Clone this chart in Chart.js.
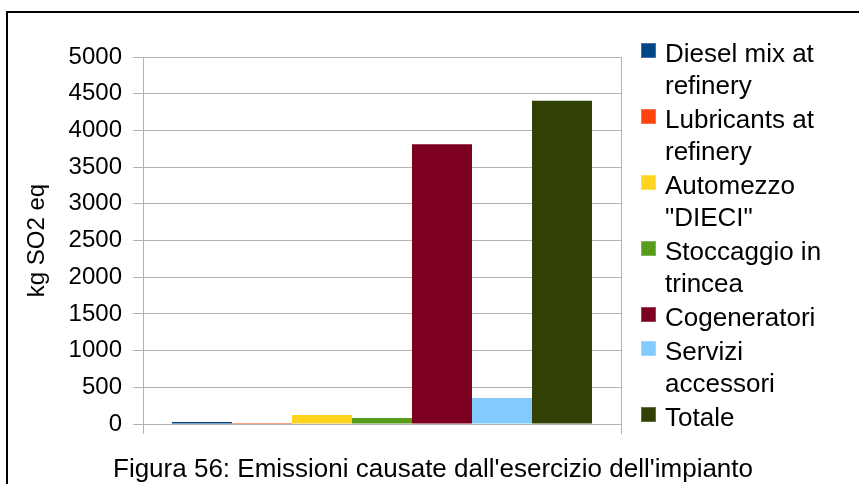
<!DOCTYPE html>
<html>
<head>
<meta charset="utf-8">
<script src="https://cdn.jsdelivr.net/npm/chart.js@4/dist/chart.umd.min.js"></script>
<style>
  html, body { margin: 0; padding: 0; background: #fff; overflow: hidden; }
  body { width: 859px; height: 484px; position: relative; font-family: "Liberation Sans", Arial, sans-serif; color: #000; }
  #frame { position: absolute; left: 6px; top: 11px; width: 900px; height: 520px; border-left: 2px solid #000; border-top: 2px solid #000; }
  #chart { position: absolute; left: 0; top: 0; }
  #legend { position: absolute; left: 641px; top: 37px; margin: 0; padding: 0; list-style: none; }
  #legend li { display: flex; align-items: flex-start; margin-bottom: 2px; }
  #legend .sw { width: 15px; height: 15px; margin-top: 6px; margin-right: 9px; flex: none; box-sizing: border-box; border: 1px solid rgba(255,255,255,0.25); }
  #legend .tx { width: 180px; font-size: 26px; line-height: 32px; }
  #caption { position: absolute; left: 113px; top: 453px; font-size: 26px; line-height: 30px; white-space: nowrap; }
</style>
</head>
<body>
<div id="frame"></div>
<canvas id="chart" width="859" height="484"></canvas>
<ul id="legend"></ul>
<div id="caption">Figura 56: Emissioni causate dall'esercizio dell'impianto</div>
<script>
// Sources of acidification (kg SO2 eq), one bar each
const seriesNames = [
  'Diesel mix at refinery',
  'Lubricants at refinery',
  'Automezzo "DIECI"',
  'Stoccaggio in trincea',
  'Cogeneratori',
  'Servizi accessori',
  'Totale'
];
const seriesValues = [27, 14, 122, 82, 3810, 355, 4405];
const seriesColors = ['#004586', '#ff420e', '#ffd320', '#579d1c', '#7e0021', '#83caff', '#314004'];
const categories = [''];
const yTicks = { min: 0, max: 5000, step: 500 };
const yTitle = 'kg SO2 eq';

const gridColor = '#b3b3b3';
const font = { family: '"Liberation Sans", Arial, sans-serif' };

const datasets = seriesNames.map((name, i) => ({
  label: name,
  data: [seriesValues[i]],
  backgroundColor: seriesColors[i],
  borderWidth: 0,
  barPercentage: 1,
  categoryPercentage: 0.8787
}));

new Chart(document.getElementById('chart'), {
  type: 'bar',
  data: { labels: categories, datasets },
  options: {
    responsive: false,
    animation: false,
    devicePixelRatio: 1,
    layout: { padding: { left: 0, right: 238, top: 57, bottom: 60 } },
    plugins: { legend: { display: false }, tooltip: { enabled: false } },
    scales: {
      x: {
        grid: { offset: true, color: gridColor, lineWidth: 1, tickLength: 10, drawTicks: true },
        border: { color: gridColor },
        ticks: { display: false },
        afterFit: (s) => { s.height = 0; }
      },
      y: {
        min: yTicks.min,
        max: yTicks.max,
        grid: { color: gridColor, lineWidth: 1, tickLength: 10 },
        border: { color: gridColor },
        ticks: {
          stepSize: yTicks.step,
          color: '#000',
          padding: 11,
          font: { ...font, size: 24 },
          callback: (v) => String(v)
        },
        title: { display: true, text: yTitle, color: '#000', padding: { top: 23, bottom: 0 }, font: { ...font, size: 24 } },
        afterFit: (s) => { s.width = 143; }
      }
    }
  }
});

// Legend, built from the same series lists
const legend = document.getElementById('legend');
seriesNames.forEach((name, i) => {
  const li = document.createElement('li');
  const sw = document.createElement('span');
  sw.className = 'sw';
  sw.style.background = seriesColors[i];
  const tx = document.createElement('span');
  tx.className = 'tx';
  tx.textContent = name;
  li.appendChild(sw);
  li.appendChild(tx);
  legend.appendChild(li);
});
</script>
</body>
</html>
